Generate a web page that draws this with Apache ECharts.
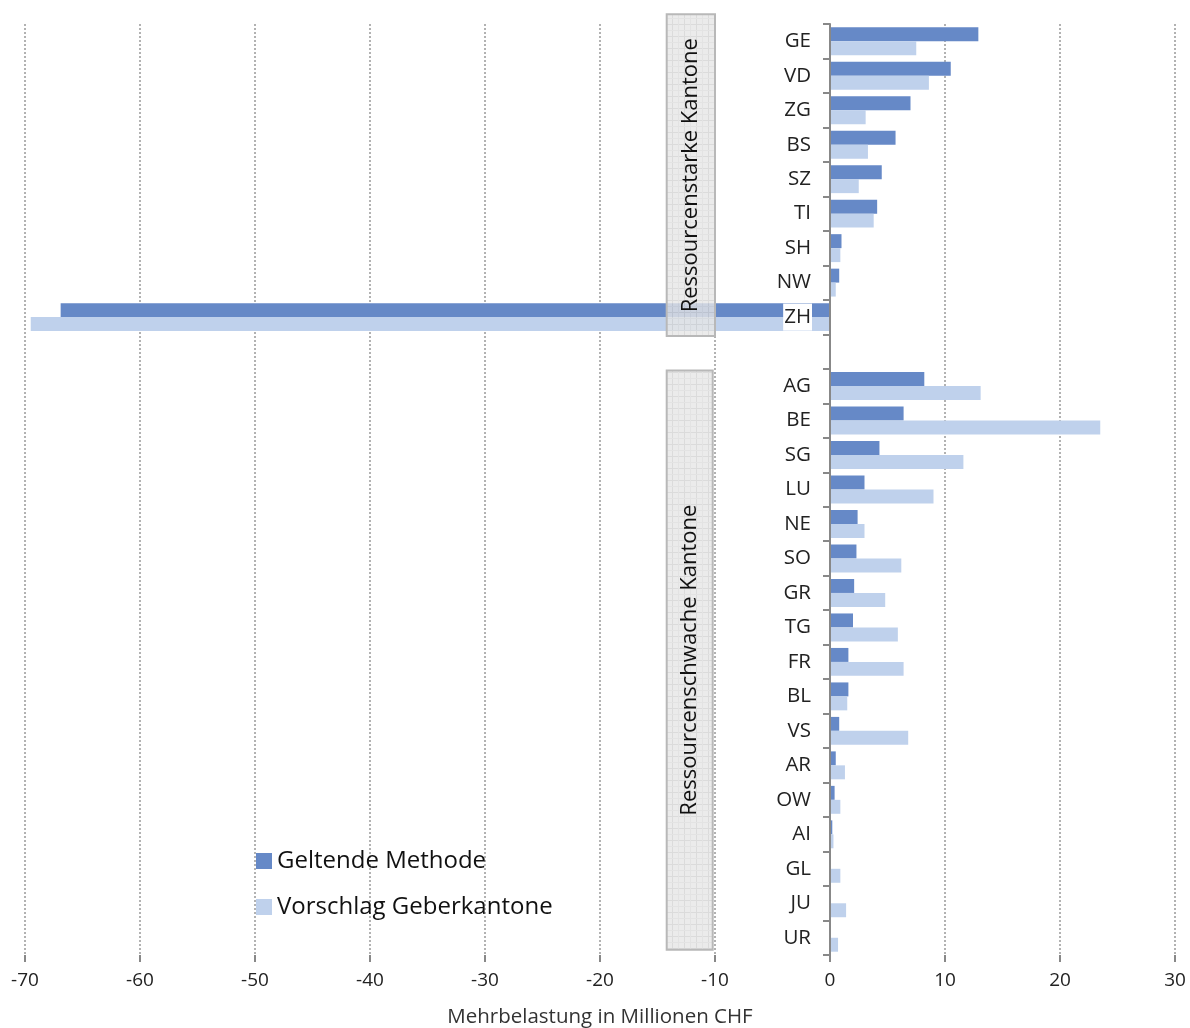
<!DOCTYPE html>
<html>
<head>
<meta charset="utf-8">
<script src="https://cdn.jsdelivr.net/npm/echarts@6/dist/echarts.min.js"></script>
<style>
html,body{margin:0;padding:0;background:#fff;}
#c{width:1190px;height:1028px;}
</style>
</head>
<body>
<div id="c"></div>
<script>
const categories = ['GE','VD','ZG','BS','SZ','TI','SH','NW','ZH','','AG','BE','SG','LU','NE','SO','GR','TG','FR','BL','VS','AR','OW','AI','GL','JU','UR'];
const geltende = [12.9,10.5,7.0,5.7,4.5,4.1,1.0,0.8,-66.9,null,8.2,6.4,4.3,3.0,2.4,2.3,2.1,2.0,1.6,1.6,0.8,0.5,0.4,0.2,0.0,0.0,0.0];
const vorschlag = [7.5,8.6,3.1,3.3,2.5,3.8,0.9,0.5,-69.5,null,13.1,23.5,11.6,9.0,3.0,6.2,4.8,5.9,6.4,1.5,6.8,1.3,0.9,0.3,0.9,1.4,0.7];
const seriesNames = ['Geltende Methode','Vorschlag Geberkantone'];
const groupLabels = ['Ressourcenstarke Kantone','Ressourcenschwache Kantone'];
const xTicks = {min:-70, max:30, interval:10};

const FONT = '"Open Sans", "Noto Sans", sans-serif';
const GRID = {left:25,right:15,top:24,bottom:73};
const plotW = 1190 - GRID.left - GRID.right;
const zeroOffset = -((0 - xTicks.min)/(xTicks.max - xTicks.min))*plotW;

const chart = echarts.init(document.getElementById('c'), null, {renderer:'canvas'});
const option = {
  animation:false,
  backgroundColor:'#fff',
  textStyle:{fontFamily:FONT},
  grid:Object.assign({containLabel:false, outerBoundsMode:'none'}, GRID),
  legend:{
    orient:'vertical', left:251, top:844, itemWidth:16, itemHeight:16, itemGap:22,
    icon:'rect',
    textStyle:{fontSize:24,color:'#111',fontFamily:FONT},
    data:seriesNames
  },
  xAxis:{
    type:'value', min:xTicks.min, max:xTicks.max, interval:xTicks.interval,
    name:'Mehrbelastung in Millionen CHF', nameLocation:'middle', nameGap:52,
    nameTextStyle:{fontSize:20.5,color:'#333',fontFamily:FONT},
    axisLine:{onZero:false,lineStyle:{color:'#888',width:2}},
    axisTick:{show:true,length:7,lineStyle:{color:'#888',width:2}},
    axisLabel:{fontSize:19,color:'#222',margin:16,fontFamily:FONT},
    splitLine:{show:true,lineStyle:{color:'#999',width:1.5,type:[2,2]}}
  },
  yAxis:{
    type:'category', inverse:true, data:categories, z:5, position:'left', offset:zeroOffset,
    axisLine:{onZero:false,lineStyle:{color:'#888',width:2}},
    axisTick:{show:true,length:7,alignWithLabel:false,lineStyle:{color:'#888',width:2}},
    axisLabel:{fontSize:20.5,color:'#222',margin:18,backgroundColor:'#fff',padding:[3,1,3,1],fontFamily:FONT},
    splitLine:{show:false}
  },
  series:[
    {name:seriesNames[0], type:'bar', data:geltende, barGap:'0%', barCategoryGap:'19%',
     itemStyle:{color:'#6689C7'}},
    {name:seriesNames[1], type:'bar', data:vorschlag, barGap:'0%', barCategoryGap:'19%',
     itemStyle:{color:'#BFD1EC'}}
  ]
};
chart.setOption(option);

// hatch pattern for annotation boxes
const pc = document.createElement('canvas');
pc.width = 12; pc.height = 12;
const g = pc.getContext('2d');
g.fillStyle = '#e6e6e6'; g.fillRect(0,0,12,12);
g.fillStyle = '#d2d2d2'; g.fillRect(0,0,12,1); g.fillRect(0,0,1,12);
g.fillStyle = '#dcdcdc'; g.fillRect(0,6,12,1); g.fillRect(6,0,1,12);

function px(v){return chart.convertToPixel({xAxisIndex:0}, v);}
function py(c){return chart.convertToPixel({yAxisIndex:0}, c);}
const xl = px(-14.2), xr1 = px(-10), xr2 = px(-10.2);
const slot = py('VD') - py('GE');
const b1 = {x:xl, y:py('GE') - slot*0.78, w:xr1-xl, h:(py('ZH') + slot*0.55) - (py('GE') - slot*0.78)};
const b2 = {x:xl, y:py('AG') - slot*0.45, w:xr2-xl, h:(py('UR') + slot*0.35) - (py('AG') - slot*0.45)};
function box(b, label){
  return {
    type:'group', z:50,
    children:[
      {type:'rect', z:50, shape:{x:b.x,y:b.y,width:b.w,height:b.h},
       style:{fill:{image:pc,repeat:'repeat'},opacity:0.8}},
      {type:'rect', z:51, shape:{x:b.x,y:b.y,width:b.w,height:b.h},
       style:{fill:'none',stroke:'#b8b8b8',lineWidth:2}},
      {type:'text', z:52, x:b.x+b.w/2, y:b.y+b.h/2, rotation:Math.PI/2,
       style:{text:label,font:'22px '+FONT,fill:'#111',align:'center',verticalAlign:'middle'}}
    ]
  };
}
chart.setOption({graphic:[box(b1,groupLabels[0]), box(b2,groupLabels[1])]});
</script>
</body>
</html>
